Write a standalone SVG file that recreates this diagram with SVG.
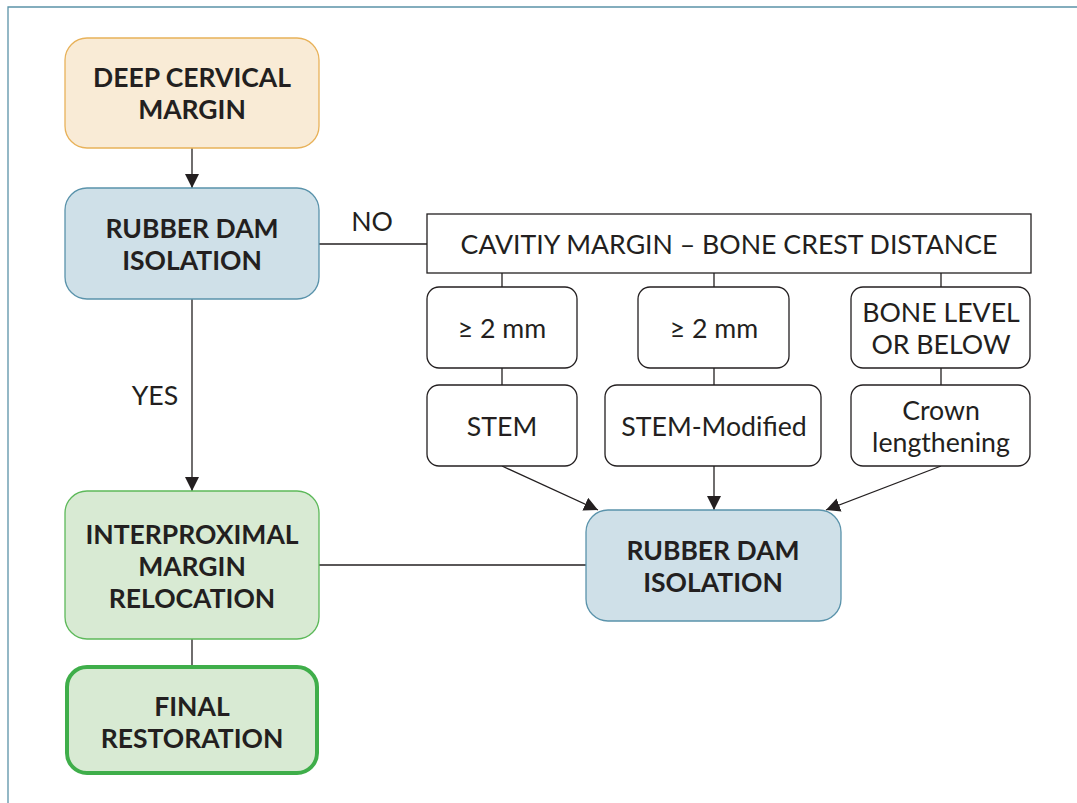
<svg xmlns="http://www.w3.org/2000/svg" width="1077" height="803" viewBox="0 0 1077 803">
<defs>
<marker id="ah" viewBox="0 0 10 10" refX="10" refY="5" markerWidth="14" markerHeight="14" markerUnits="userSpaceOnUse" orient="auto">
<path d="M0,0 L10,5 L0,10 z" fill="#231f20"/>
</marker>
<style>
.b{font-family:Lato,"Open Sans",sans-serif;font-weight:bold;font-size:26.5px;fill:#231f20;text-anchor:middle}
.n{font-family:Lato,"Open Sans",sans-serif;font-weight:400;font-size:26.7px;fill:#231f20;text-anchor:middle}
.w{fill:#fff;stroke:#231f20;stroke-width:1.3}
.c{stroke:#231f20;stroke-width:1.3;fill:none}
</style>
</defs>
<rect width="1077" height="803" fill="#fff"/>
<path d="M8,803 V7 H1077" fill="none" stroke="#5b93a8" stroke-width="1.3"/>
<g id="connectors">
<line class="c" x1="192" y1="148" x2="192" y2="188" marker-end="url(#ah)"/>
<line class="c" x1="319" y1="244" x2="427" y2="244"/>
<line class="c" x1="192" y1="299" x2="192" y2="491" marker-end="url(#ah)"/>
<line class="c" x1="502" y1="273" x2="502" y2="287"/>
<line class="c" x1="714" y1="273" x2="714" y2="287"/>
<line class="c" x1="941" y1="273" x2="941" y2="287"/>
<line class="c" x1="502" y1="368" x2="502" y2="385"/>
<line class="c" x1="714" y1="368" x2="714" y2="385"/>
<line class="c" x1="941" y1="368" x2="941" y2="385"/>
<line class="c" x1="502" y1="466" x2="598" y2="510" marker-end="url(#ah)"/>
<line class="c" x1="714" y1="466" x2="714" y2="510" marker-end="url(#ah)"/>
<line class="c" x1="941" y1="466" x2="826" y2="510" marker-end="url(#ah)"/>
<line class="c" x1="319" y1="565" x2="586" y2="565"/>
<line class="c" x1="192" y1="639" x2="192" y2="667"/>
<text class="n" x="372" y="231">NO</text>
<text class="n" x="155" y="405">YES</text>
</g>
<g id="deep">
<rect x="65" y="38" width="254" height="110" rx="22" fill="#f9ebd6" stroke="#e8b25a" stroke-width="1.3"/>
<text class="b" x="192" y="87">DEEP CERVICAL</text>
<text class="b" x="192" y="119">MARGIN</text>
</g>
<g id="rd1">
<rect x="65" y="188" width="254" height="111" rx="22" fill="#cfe0e8" stroke="#5a93ab" stroke-width="1.3"/>
<text class="b" x="192" y="238">RUBBER DAM</text>
<text class="b" x="192" y="270">ISOLATION</text>
</g>
<g id="cavity">
<rect class="w" x="427" y="214" width="604" height="59"/>
<text class="n" x="729" y="254">CAVITIY MARGIN – BONE CREST DISTANCE</text>
</g>
<g id="ge1">
<rect class="w" x="427" y="287" width="150" height="81" rx="12"/>
<text class="n" x="502" y="338">≥ 2 mm</text>
</g>
<g id="ge2">
<rect class="w" x="638" y="287" width="151" height="81" rx="12"/>
<text class="n" x="714" y="338">≥ 2 mm</text>
</g>
<g id="bone">
<rect class="w" x="851" y="287" width="179" height="81" rx="12"/>
<text class="n" x="941" y="322">BONE LEVEL</text>
<text class="n" x="941" y="354">OR BELOW</text>
</g>
<g id="stem">
<rect class="w" x="427" y="385" width="150" height="81" rx="12"/>
<text class="n" x="502" y="436">STEM</text>
</g>
<g id="stemmod">
<rect class="w" x="605" y="385" width="216" height="81" rx="12"/>
<text class="n" x="714" y="436">STEM-Modified</text>
</g>
<g id="crown">
<rect class="w" x="851" y="385" width="179" height="81" rx="12"/>
<text class="n" x="941" y="420">Crown</text>
<text class="n" x="941" y="452">lengthening</text>
</g>
<g id="rd2">
<rect x="586" y="510" width="255" height="111" rx="22" fill="#cfe0e8" stroke="#5a93ab" stroke-width="1.3"/>
<text class="b" x="713" y="560">RUBBER DAM</text>
<text class="b" x="713" y="592">ISOLATION</text>
</g>
<g id="imr">
<rect x="65" y="491" width="254" height="148" rx="22" fill="#d8ead3" stroke="#5db95a" stroke-width="1.3"/>
<text class="b" x="192" y="544">INTERPROXIMAL</text>
<text class="b" x="192" y="576">MARGIN</text>
<text class="b" x="192" y="608">RELOCATION</text>
</g>
<g id="final">
<rect x="67" y="667" width="250" height="106" rx="20" fill="#d8ead3" stroke="#3fae4a" stroke-width="4"/>
<text class="b" x="192" y="716">FINAL</text>
<text class="b" x="192" y="748">RESTORATION</text>
</g>
</svg>
